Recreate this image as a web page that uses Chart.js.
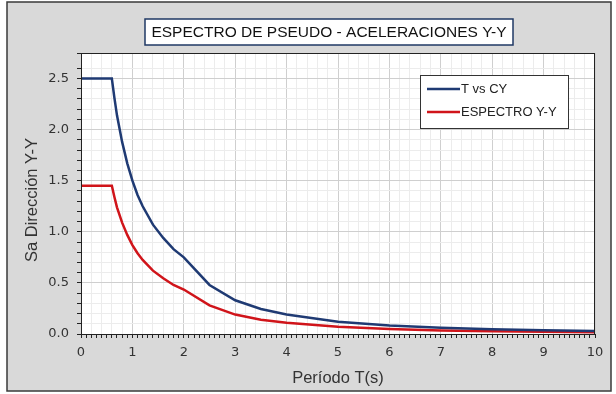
<!DOCTYPE html>
<html>
<head>
<meta charset="utf-8">
<script src="https://cdn.jsdelivr.net/npm/chart.js@4"></script>
<style>
  html, body { margin: 0; padding: 0; background: #fff; }
  canvas { display: block; }
</style>
</head>
<body>
<canvas id="chart" width="616" height="394"></canvas>
<script>
// ==================== DATA ====================
const chartTitle = "ESPECTRO DE PSEUDO - ACELERACIONES Y-Y";
const periods = [0, 0.6, 0.65, 0.7, 0.8, 0.9, 1.0, 1.1, 1.2, 1.4, 1.6, 1.8, 2.0, 2.5, 3.0, 3.5, 4.0, 5, 6, 7, 8, 9, 10];
const cyValues = [2.5, 2.5, 2.31, 2.14, 1.88, 1.67, 1.5, 1.36, 1.25, 1.07, 0.94, 0.83, 0.75, 0.48, 0.33, 0.245, 0.19, 0.12, 0.083, 0.061, 0.047, 0.037, 0.03];
const espectroValues = [1.45, 1.45, 1.34, 1.24, 1.09, 0.97, 0.87, 0.79, 0.725, 0.62, 0.545, 0.48, 0.435, 0.28, 0.19, 0.14, 0.11, 0.07, 0.048, 0.035, 0.027, 0.021, 0.017];
const seriesLabels = ["T vs CY", "ESPECTRO Y-Y"];
const xTitle = "Período T(s)";
const yTitle = "Sa Dirección Y-Y";

const isMult = (v, step) => Math.abs(v / step - Math.round(v / step)) < 1e-6;

// ==================== DECORATION PLUGIN ====================
const frame = {
  id: "frame",
  beforeDraw(chart) {
    const ctx = chart.ctx, a = chart.chartArea;
    ctx.save();
    ctx.fillStyle = "#fff";
    ctx.fillRect(0, 0, chart.width, chart.height);
    ctx.fillStyle = "#d9d9d9";
    ctx.fillRect(7, 2, 604, 389);
    ctx.strokeStyle = "#3a3a3a";
    ctx.lineWidth = 1.5;
    ctx.strokeRect(7, 2, 604, 389);
    ctx.fillStyle = "#fff";
    ctx.fillRect(a.left, a.top, a.right - a.left, a.bottom - a.top);
    // title box
    ctx.fillRect(145, 19, 368, 26);
    ctx.strokeStyle = "#1f3864";
    ctx.lineWidth = 1.5;
    ctx.strokeRect(145, 19, 368, 26);
    ctx.fillStyle = "#111";
    ctx.font = "15.5px 'Liberation Sans', Arial, sans-serif";
    ctx.textAlign = "center";
    ctx.textBaseline = "middle";
    ctx.fillText(chartTitle, 329, 32.5);
    // y axis title
    ctx.save();
    ctx.translate(32, 200);
    ctx.rotate(-Math.PI / 2);
    ctx.fillStyle = "#333";
    ctx.font = "16.5px 'Liberation Sans', Arial, sans-serif";
    ctx.fillText(yTitle, 0, 0);
    ctx.restore();
    ctx.restore();
  },
  afterDatasetsDraw(chart) {
    const ctx = chart.ctx, a = chart.chartArea;
    ctx.save();
    ctx.strokeStyle = "#222";
    ctx.lineWidth = 1;
    ctx.strokeRect(a.left + 0.5, a.top + 0.5, a.right - a.left - 1, a.bottom - a.top);
    // legend
    ctx.fillStyle = "#fff";
    ctx.fillRect(420.5, 75.5, 148, 53);
    ctx.strokeStyle = "#333";
    ctx.strokeRect(420.5, 75.5, 148, 53);
    ctx.font = "13px 'Liberation Sans', Arial, sans-serif";
    ctx.textAlign = "left";
    ctx.textBaseline = "middle";
    chart.data.datasets.forEach((ds, i) => {
      const y = 89 + i * 23;
      ctx.strokeStyle = ds.borderColor;
      ctx.lineWidth = 2.5;
      ctx.beginPath();
      ctx.moveTo(427, y);
      ctx.lineTo(460, y);
      ctx.stroke();
      ctx.fillStyle = "#222";
      ctx.fillText(ds.label, 461, y + 0.5);
    });
    ctx.restore();
  }
};

// ==================== CHART ====================
new Chart(document.getElementById("chart"), {
  type: "line",
  data: {
    datasets: [
      { label: seriesLabels[0], data: periods.map((t, i) => ({ x: t, y: cyValues[i] })), borderColor: "#1f3a73", borderWidth: 2.5, pointRadius: 0, tension: 0 },
      { label: seriesLabels[1], data: periods.map((t, i) => ({ x: t, y: espectroValues[i] })), borderColor: "#d0141a", borderWidth: 2.5, pointRadius: 0, tension: 0 }
    ]
  },
  options: {
    responsive: false,
    animation: false,
    devicePixelRatio: 1,
    layout: { padding: { top: 53, right: 21, left: 0, bottom: 0 } },
    plugins: { legend: { display: false }, tooltip: { enabled: false } },
    scales: {
      x: {
        type: "linear", min: 0, max: 10,
        afterFit: s => { s.height = 60; },
        ticks: {
          stepSize: 0.1, autoSkip: false, maxRotation: 0, padding: 7,
          color: "#333", font: { family: "'DejaVu Sans', sans-serif", size: 13 },
          callback: v => isMult(v, 1) ? String(Math.round(v)) : ""
        },
        grid: {
          color: c => isMult(c.tick.value, 1) ? "#cfcfcf" : isMult(c.tick.value, 0.2) ? "#ececec" : "rgba(0,0,0,0)",
          tickColor: "#222", tickLength: 4
        },
        border: { color: "#222", width: 1 },
        title: { display: true, text: xTitle, color: "#333", font: { family: "'Liberation Sans', Arial, sans-serif", size: 16.5 }, padding: { top: 0, bottom: 6 } }
      },
      y: {
        min: 0, max: 2.75,
        afterFit: s => { s.width = 81; },
        ticks: {
          stepSize: 0.1, autoSkip: false, padding: 8,
          color: "#333", font: { family: "'DejaVu Sans', sans-serif", size: 13 },
          callback: v => isMult(v, 0.5) ? v.toFixed(1) : ""
        },
        grid: {
          color: c => isMult(c.tick.value, 0.5) ? "#cfcfcf" : isMult(c.tick.value, 0.1) ? "#ececec" : "rgba(0,0,0,0)",
          tickColor: "#222", tickLength: 4
        },
        border: { color: "#222", width: 1 }
      }
    }
  },
  plugins: [frame]
});
</script>
</body>
</html>
